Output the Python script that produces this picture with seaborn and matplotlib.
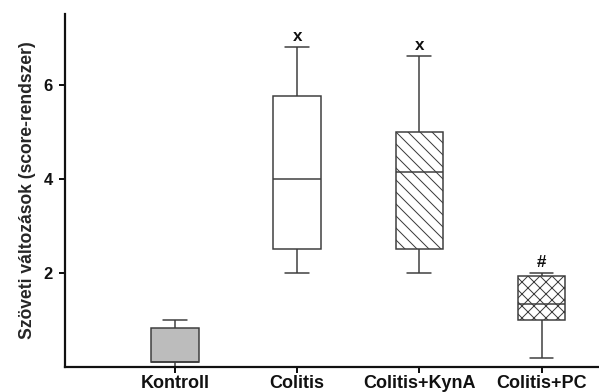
import numpy as np
import pandas as pd
import matplotlib
matplotlib.use("Agg")
import matplotlib.pyplot as plt
import seaborn as sns

# Tissue damage scores per group: whisker ends, quartiles and median
groups = ["Kontroll", "Colitis", "Colitis+KynA", "Colitis+PC"]
whisker_low = [0.0, 2.0, 2.0, 0.2]
quart1 = [0.1, 2.5, 2.5, 1.0]
medians = [0.1, 4.0, 4.15, 1.33]
quart3 = [0.83, 5.75, 5.0, 1.94]
whisker_high = [1.0, 6.8, 6.6, 2.0]
signif = ["", "x", "x", "#"]
hatches = ["", "", "\\\\", "xx"]
fills = ["#bcbcbc", "white", "white", "white"]
yticks = [2, 4, 6]

# Five summary points per group reproduce the quartiles exactly
rows = []
for g, lo, a, m, b, hi in zip(groups, whisker_low, quart1, medians, quart3, whisker_high):
    for v in (lo, a, m, b, hi):
        rows.append({"group": g, "score": v})
df = pd.DataFrame(rows)

sns.set_theme(style="ticks")
plt.rcParams["font.family"] = ["Liberation Sans", "DejaVu Sans"]
plt.rcParams["font.weight"] = "bold"
plt.rcParams["hatch.linewidth"] = 1.0
plt.rcParams["hatch.color"] = "#2e2e2e"

DPI = 72
fig = plt.figure(figsize=(599 / DPI, 392 / DPI), dpi=DPI)
ax = fig.add_axes([65 / 599, 25 / 392, 534 / 599, 353 / 392])

edge = "#3c3c3c"
sns.boxplot(data=df, x="group", y="score", hue="group", order=groups,
            hue_order=groups, palette=dict(zip(groups, fills)), legend=False,
            width=0.39, whis=(0, 100), linecolor=edge, linewidth=1.5,
            saturation=1, fliersize=0, ax=ax)

for patch in ax.patches:
    xs = patch.get_path().vertices[:, 0]
    idx = int(round((xs.min() + xs.max()) / 2))
    if 0 <= idx < len(groups) and hatches[idx]:
        patch.set_hatch(hatches[idx])
        if hasattr(patch, "set_hatchcolor"):
            patch.set_hatchcolor("#2e2e2e")

for i, (txt, hi) in enumerate(zip(signif, whisker_high)):
    if txt:
        ax.text(i, hi + 0.07, txt, ha="center", va="bottom",
                fontsize=17, fontweight="bold", color="#111111")

ax.set_xlim(-0.9, 3.47)
ax.set_ylim(0, 7.5)
ax.set_yticks(yticks)
ax.set_yticklabels([str(t) for t in yticks], fontsize=16.5, fontweight="bold")
ax.set_xticks(range(len(groups)))
ax.set_xticklabels(groups, fontsize=18, fontweight="bold")
ax.set_xlabel("")
ax.set_ylabel("Szöveti változások (score-rendszer)", fontsize=17.5,
              fontweight="bold", labelpad=8)

sns.despine(ax=ax)
for s in ("left", "bottom"):
    ax.spines[s].set_linewidth(2.2)
    ax.spines[s].set_color("#111111")
ax.tick_params(axis="both", length=6, width=2, color="#111111",
               labelcolor="#111111")
ax.tick_params(axis="x", pad=1.5)
ax.tick_params(axis="y", pad=6)

fig.savefig("out.png", dpi=DPI, facecolor="white")
